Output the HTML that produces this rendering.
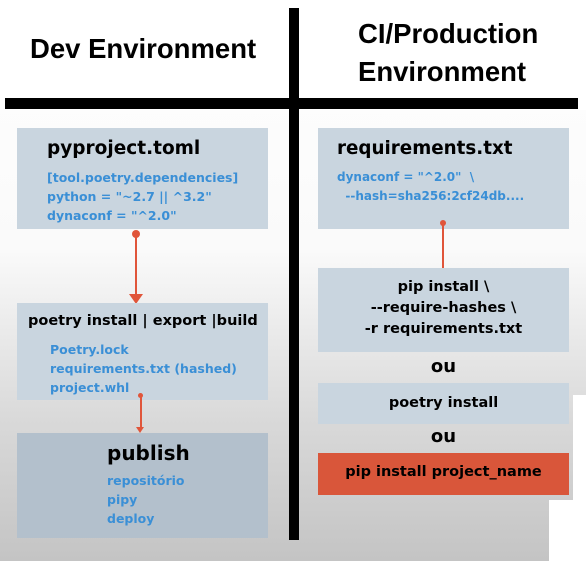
<!DOCTYPE html><html><head><style>
body{margin:0;width:586px;height:561px;position:relative;overflow:hidden;font-family:"DejaVu Sans","Liberation Sans",sans-serif;background:linear-gradient(#ffffff 0px,#fafafa 250px,#d9d9d9 420px,#c4c4c4 561px);}
.a{position:absolute}
.box{position:absolute;background:#c9d5df}
.t{position:absolute;font-weight:bold;white-space:nowrap}
.blue{color:#3a8fd6;font-size:12.5px;line-height:19px;font-weight:bold}
</style></head><body>
<div class="a" style="left:0;top:0;width:586px;height:110px;background:#fff"></div>
<div class="a" style="left:289px;top:8px;width:10px;height:532px;background:#000"></div>
<div class="a" style="left:5px;top:98px;width:573px;height:11px;background:#000"></div>
<div class="t" style="left:30px;top:33px;font-size:27.5px;font-family:'Liberation Sans',sans-serif">Dev Environment</div>
<div class="t" style="left:358px;top:15px;font-size:27.5px;line-height:38px;font-family:'Liberation Sans',sans-serif">CI/Production<br>Environment</div>

<div class="box" style="left:17px;top:128px;width:251px;height:101px"></div>
<div class="t" style="left:47px;top:138px;font-size:18.5px">pyproject.toml</div>
<div class="t blue" style="left:47px;top:168px">[tool.poetry.dependencies]<br>python = "~2.7 || ^3.2"<br>dynaconf = "^2.0"</div>
<div class="a" style="left:132px;top:230px;width:8px;height:8px;border-radius:50%;background:#e0553a"></div>
<div class="a" style="left:135px;top:234px;width:2px;height:62px;background:#e0553a"></div>
<div class="a" style="left:129px;top:294px;border-left:7px solid transparent;border-right:7px solid transparent;border-top:10px solid #e0553a"></div>

<div class="box" style="left:17px;top:303px;width:251px;height:97px"></div>
<div class="t" style="left:28px;top:313px;font-size:14.5px">poetry install | export |build</div>
<div class="t blue" style="left:50px;top:340px">Poetry.lock<br>requirements.txt (hashed)<br>project.whl</div>
<div class="a" style="left:138px;top:393px;width:5px;height:5px;border-radius:50%;background:#e0553a"></div>
<div class="a" style="left:140px;top:396px;width:1.5px;height:32px;background:#e0553a"></div>
<div class="a" style="left:136px;top:427px;border-left:4px solid transparent;border-right:4px solid transparent;border-top:6px solid #e0553a"></div>

<div class="box" style="left:17px;top:433px;width:251px;height:105px;background:#b3c0cc"></div>
<div class="t" style="left:107px;top:441px;font-size:20px">publish</div>
<div class="t blue" style="left:107px;top:471px">repositório<br>pipy<br>deploy</div>

<div class="box" style="left:318px;top:128px;width:251px;height:101px"></div>
<div class="t" style="left:337px;top:138px;font-size:18.3px">requirements.txt</div>
<div class="t blue" style="left:337px;top:168px;font-size:12px">dynaconf = "^2.0" &nbsp;\<br>&nbsp;&nbsp;--hash=sha256:2cf24db....</div>
<div class="a" style="left:440px;top:220px;width:6px;height:6px;border-radius:50%;background:#e0553a"></div>
<div class="a" style="left:442px;top:224px;width:2px;height:46px;background:#e0553a"></div>
<div class="a" style="left:438px;top:268px;border-left:5px solid transparent;border-right:5px solid transparent;border-top:8px solid #e0553a"></div>

<div class="box" style="left:318px;top:268px;width:251px;height:84px"></div>
<div class="t" style="left:318px;width:251px;text-align:center;top:277px;font-size:14.5px;line-height:21px">pip install \<br>--require-hashes \<br>-r requirements.txt</div>
<div class="t" style="left:318px;width:251px;text-align:center;top:356px;font-size:18px">ou</div>
<div class="box" style="left:318px;top:383px;width:251px;height:41px"></div>
<div class="t" style="left:318px;width:251px;text-align:center;top:395px;font-size:14.5px">poetry install</div>
<div class="t" style="left:318px;width:251px;text-align:center;top:426px;font-size:18px">ou</div>
<div class="box" style="left:318px;top:453px;width:251px;height:42px;background:#d9563a"></div>
<div class="t" style="left:318px;width:251px;text-align:center;top:464px;font-size:14.5px">pip install project_name</div>

<div class="a" style="left:573px;top:395px;width:13px;height:166px;background:#fff"></div>
<div class="a" style="left:549px;top:500px;width:37px;height:61px;background:#fff"></div>
</body></html>
